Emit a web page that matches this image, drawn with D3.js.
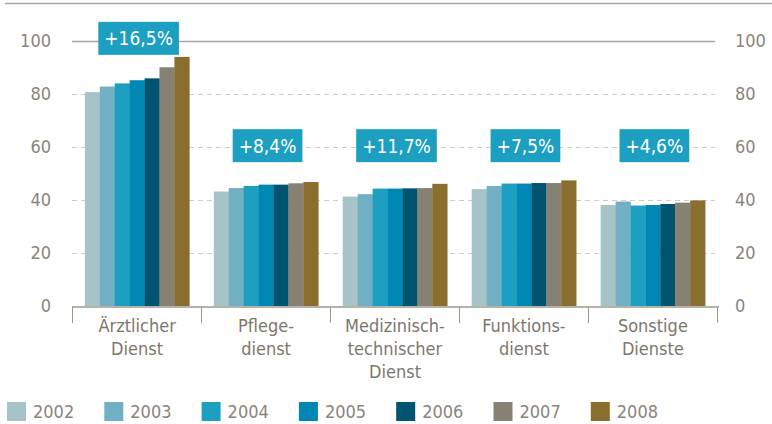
<!DOCTYPE html>
<html>
<head>
<meta charset="utf-8">
<script src="https://cdn.jsdelivr.net/npm/d3@7"></script>
<style>
  body { margin: 0; background: #fff; }
  svg { display: block; font-family: "Liberation Sans Narrow", "DejaVu Sans Condensed", "Roboto", sans-serif; }
</style>
</head>
<body>
<div id="chart"></div>
<script>
// Beschäftigte je Dienstart, 2002-2008 (Index-Werte)
const categories = [["Ärztlicher", "Dienst"], ["Pflege-", "dienst"], ["Medizinisch-", "technischer", "Dienst"], ["Funktions-", "dienst"], ["Sonstige", "Dienste"]];
const years = ["2002", "2003", "2004", "2005", "2006", "2007", "2008"];
const values2002 = [80.7, 43.2, 41.3, 44.1, 38.1];
const values2003 = [82.8, 44.5, 42.2, 45.3, 39.4];
const values2004 = [84.0, 45.3, 44.3, 46.2, 37.9];
const values2005 = [85.2, 45.8, 44.3, 46.2, 38.1];
const values2006 = [85.9, 45.8, 44.4, 46.4, 38.5];
const values2007 = [90.1, 46.3, 44.5, 46.4, 39.0];
const values2008 = [94.0, 46.8, 46.1, 47.4, 39.85];
const changeLabels = ["+16,5%", "+8,4%", "+11,7%", "+7,5%", "+4,6%"];
const yTicks = [0, 20, 40, 60, 80, 100];
const yearColors = ["#a6c4c8", "#70afc4", "#1c9fc1", "#0087b4", "#01546f", "#878173", "#8a6e2d"];

(function() {
  const W = 772, H = 424;
  const series = [values2002, values2003, values2004, values2005, values2006, values2007, values2008];
  const textGray = "#8a8579";

  const svg = d3.select("#chart").append("svg").attr("width", W).attr("height", H);

  const x0 = d3.scaleBand().domain(d3.range(categories.length)).range([72, 718])
    .paddingInner(0.19).paddingOuter(0.1);
  const x1 = d3.scaleBand().domain(years).range([0, x0.bandwidth()]);
  const y = d3.scaleLinear().domain([0, 100]).range([306, 41]);

  // top rule
  svg.append("line").attr("x1", 5).attr("x2", W).attr("y1", 3.5).attr("y2", 3.5)
    .attr("stroke", "#aaa69c").attr("stroke-width", 1.5);

  // grid
  svg.selectAll(".grid").data(yTicks.filter(t => t > 0)).enter().append("line")
    .attr("x1", 72).attr("x2", 715)
    .attr("y1", d => y(d) + 0.5).attr("y2", d => y(d) + 0.5)
    .attr("stroke", d => d === 100 ? "#aaa69c" : "#cfccc4")
    .attr("stroke-width", d => d === 100 ? 1.5 : 1)
    .attr("stroke-dasharray", d => d === 100 ? null : "5,4");

  // y labels left + right
  const yl = svg.append("g").style("font-size", "18px").attr("fill", textGray);
  yTicks.forEach(t => {
    yl.append("text").attr("x", 51).attr("y", y(t)).attr("dy", "0.35em")
      .attr("text-anchor", "end").text(t);
    yl.append("text").attr("x", 735).attr("y", y(t)).attr("dy", "0.35em")
      .attr("text-anchor", "start").text(t);
  });

  // bars
  categories.forEach((c, ci) => {
    const g = svg.append("g").attr("transform", `translate(${x0(ci)},0)`);
    years.forEach((yr, yi) => {
      const v = series[yi][ci];
      g.append("rect")
        .attr("x", x1(yr)).attr("y", y(v))
        .attr("width", x1.bandwidth() + 0.3).attr("height", y(0) - y(v))
        .attr("fill", yearColors[yi]);
    });
  });

  // baseline + category ticks
  svg.append("line").attr("x1", 72).attr("x2", 719).attr("y1", 307).attr("y2", 307)
    .attr("stroke", "#9d998d").attr("stroke-width", 1.5);
  const step = x0.step();
  const edges = d3.range(categories.length + 1).map(i => x0(0) - x0.paddingOuter() * step + i * step - (i === 0 ? 0 : 0));
  svg.selectAll(".sep").data(edges).enter().append("line")
    .attr("x1", d => Math.round(d) + 0.5).attr("x2", d => Math.round(d) + 0.5)
    .attr("y1", 307).attr("y2", 323)
    .attr("stroke", "#9d998d").attr("stroke-width", 1);

  // category labels
  const cl = svg.append("g").style("font-size", "18px").attr("fill", "#7c776b");
  categories.forEach((lines, ci) => {
    const cx = x0(ci) + x0.bandwidth() / 2;
    lines.forEach((ln, li) => {
      cl.append("text").attr("x", cx).attr("y", 332 + li * 23)
        .attr("text-anchor", "middle").text(ln);
    });
  });

  // change badges
  categories.forEach((c, ci) => {
    const maxV = d3.max(series, s => s[ci]);
    const level = maxV > 60 ? 101 : 60.5;
    const cx = x0(ci) + x0.bandwidth() / 2 + 1.5;
    const cy = y(level);
    const t = svg.append("text").attr("x", cx).attr("y", cy).attr("dy", "0.36em")
      .attr("text-anchor", "middle").style("font-size", "19px").attr("fill", "#fff")
      .text(changeLabels[ci]);
    const bb = t.node().getBBox();
    svg.insert("rect", () => t.node())
      .attr("x", bb.x - 6).attr("y", cy - 16.5)
      .attr("width", bb.width + 12).attr("height", 33)
      .attr("fill", "#1c9fc1");
  });

  // legend
  const leg = svg.append("g").attr("transform", "translate(7,402)");
  years.forEach((yr, i) => {
    leg.append("rect").attr("x", i * 97.3).attr("width", 19).attr("height", 19).attr("fill", yearColors[i]);
    leg.append("text").attr("x", i * 97.3 + 26).attr("y", 10).attr("dy", "0.35em")
      .style("font-size", "18px").attr("fill", textGray).text(yr);
  });
})();
</script>
</body>
</html>
